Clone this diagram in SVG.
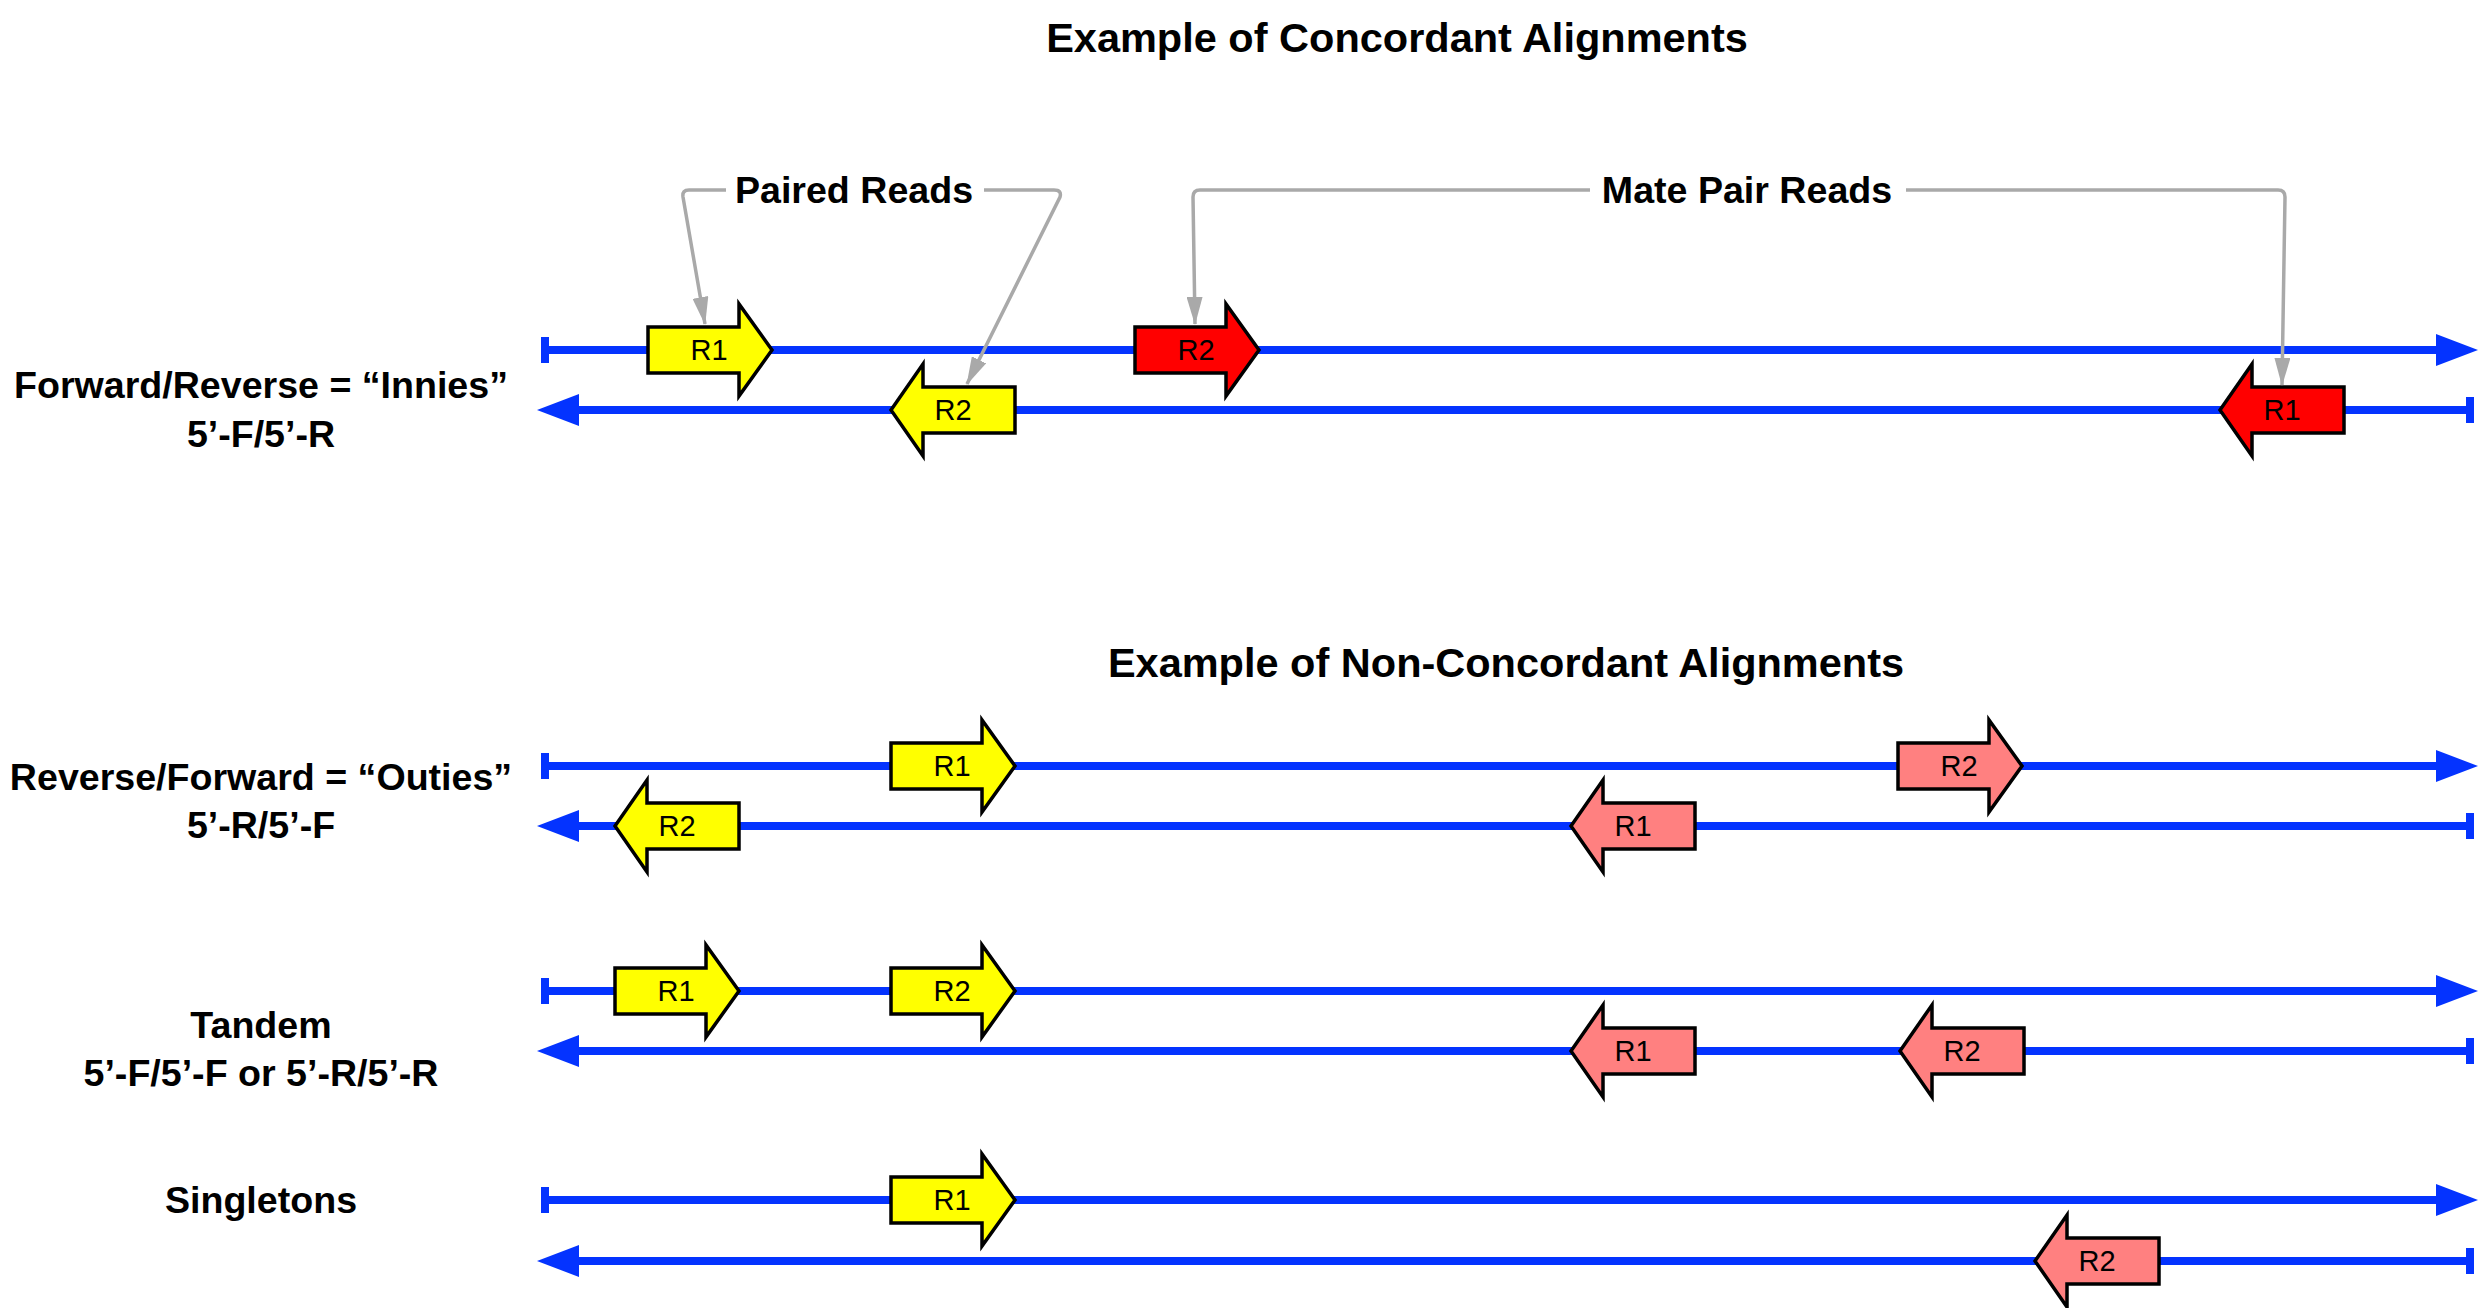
<svg xmlns="http://www.w3.org/2000/svg" xmlns:xlink="http://www.w3.org/1999/xlink" width="2485" height="1308" viewBox="0 0 2485 1308">
<style>
.title{font-family:"Liberation Sans",Arial,Helvetica,sans-serif;font-weight:bold;font-size:41.5px;text-anchor:middle;fill:#000}
.lbl{font-family:"Liberation Sans",Arial,Helvetica,sans-serif;font-weight:bold;font-size:37.6px;text-anchor:middle;fill:#000}
.rd{font-family:"Liberation Sans",Arial,Helvetica,sans-serif;font-size:29px;text-anchor:middle;fill:#000}
.strand{stroke:#0433FF;stroke-width:8;fill:none}
.tick{stroke:#0433FF;stroke-width:8;fill:none}
.head{fill:#0433FF}
.call{stroke:#A9A9A9;stroke-width:3.5;fill:none;marker-end:url(#gray)}
.read{stroke:#000;stroke-width:3.5;stroke-linejoin:miter}
.y{fill:#FFFF00}
.r{fill:#FF0000}
.p{fill:#FF8080}
</style>
<defs>
<marker id="gray" markerUnits="userSpaceOnUse" markerWidth="28" markerHeight="16" viewBox="0 0 28 16" refX="27" refY="8" orient="auto">
<path d="M0,0 L28,8 L0,16 Z" fill="#A9A9A9"/>
</marker>
<path id="fwd" d="M0,-23 H91 V-46 L124,0 L91,46 V23 H0 Z"/>
<path id="rev" d="M0,0 L32,-46 V-23 H124 V23 H32 V46 Z"/>
<g id="fstrand">
<line class="strand" x1="545" y1="0" x2="2440" y2="0"/>
<line class="tick" x1="545" y1="-13" x2="545" y2="13"/>
<path class="head" d="M2436,-16 L2478,0 L2436,16 Z"/>
</g>
<g id="rstrand">
<line class="strand" x1="575" y1="0" x2="2470" y2="0"/>
<line class="tick" x1="2470" y1="-13" x2="2470" y2="13"/>
<path class="head" d="M579,-16 L537,0 L579,16 Z"/>
</g>
</defs>

<g id="title-concordant"><text class="title" x="1397" y="52">Example of Concordant Alignments</text></g>
<g id="title-nonconcordant"><text class="title" x="1506" y="677">Example of Non-Concordant Alignments</text></g>

<g id="label-innies"><text class="lbl" x="261" y="398">Forward/Reverse = “Innies”</text><text class="lbl" x="261" y="447">5’-F/5’-R</text></g>
<g id="label-outies"><text class="lbl" x="261" y="790">Reverse/Forward = “Outies”</text><text class="lbl" x="261" y="838">5’-R/5’-F</text></g>
<g id="label-tandem"><text class="lbl" x="261" y="1038">Tandem</text><text class="lbl" x="261" y="1086">5’-F/5’-F or 5’-R/5’-R</text></g>
<g id="label-singletons"><text class="lbl" x="261" y="1213">Singletons</text></g>

<g id="strands">
<use xlink:href="#fstrand" href="#fstrand" y="350"/>
<use xlink:href="#rstrand" href="#rstrand" y="410"/>
<use xlink:href="#fstrand" href="#fstrand" y="766"/>
<use xlink:href="#rstrand" href="#rstrand" y="826"/>
<use xlink:href="#fstrand" href="#fstrand" y="991"/>
<use xlink:href="#rstrand" href="#rstrand" y="1051"/>
<use xlink:href="#fstrand" href="#fstrand" y="1200"/>
<use xlink:href="#rstrand" href="#rstrand" y="1261"/>
</g>

<g id="innies-r1"><use class="read y" xlink:href="#fwd" href="#fwd" x="648" y="350"/><text class="rd" x="709" y="360">R1</text></g>
<g id="innies-r2"><use class="read y" xlink:href="#rev" href="#rev" x="891" y="410"/><text class="rd" x="953" y="420">R2</text></g>
<g id="mate-r2"><use class="read r" xlink:href="#fwd" href="#fwd" x="1135" y="350"/><text class="rd" x="1196" y="360">R2</text></g>
<g id="mate-r1"><use class="read r" xlink:href="#rev" href="#rev" x="2220" y="410"/><text class="rd" x="2282" y="420">R1</text></g>

<g id="outies-r1"><use class="read y" xlink:href="#fwd" href="#fwd" x="891" y="766"/><text class="rd" x="952" y="776">R1</text></g>
<g id="outies-r2"><use class="read y" xlink:href="#rev" href="#rev" x="615" y="826"/><text class="rd" x="677" y="836">R2</text></g>
<g id="outies-r2b"><use class="read p" xlink:href="#fwd" href="#fwd" x="1898" y="766"/><text class="rd" x="1959" y="776">R2</text></g>
<g id="outies-r1b"><use class="read p" xlink:href="#rev" href="#rev" x="1571" y="826"/><text class="rd" x="1633" y="836">R1</text></g>

<g id="tandem-r1"><use class="read y" xlink:href="#fwd" href="#fwd" x="615" y="991"/><text class="rd" x="676" y="1001">R1</text></g>
<g id="tandem-r2"><use class="read y" xlink:href="#fwd" href="#fwd" x="891" y="991"/><text class="rd" x="952" y="1001">R2</text></g>
<g id="tandem-r1b"><use class="read p" xlink:href="#rev" href="#rev" x="1571" y="1051"/><text class="rd" x="1633" y="1061">R1</text></g>
<g id="tandem-r2b"><use class="read p" xlink:href="#rev" href="#rev" x="1900" y="1051"/><text class="rd" x="1962" y="1061">R2</text></g>

<g id="single-r1"><use class="read y" xlink:href="#fwd" href="#fwd" x="891" y="1200"/><text class="rd" x="952" y="1210">R1</text></g>
<g id="single-r2"><use class="read p" xlink:href="#rev" href="#rev" x="2035" y="1261"/><text class="rd" x="2097" y="1271">R2</text></g>

<g id="callouts">
<path class="call" d="M726,190 H689 Q682,190 683,197 L705,324"/>
<path class="call" d="M984,190 H1054 Q1062,190 1060,197 L967,384"/>
<path class="call" d="M1590,190 H1200 Q1193,190 1193,197 L1195,324"/>
<path class="call" d="M1906,190 H2278 Q2285,190 2285,197 L2282,385"/>
</g>
<g id="label-paired"><text class="lbl" x="854" y="203">Paired Reads</text></g>
<g id="label-mate"><text class="lbl" x="1747" y="203">Mate Pair Reads</text></g>
</svg>
